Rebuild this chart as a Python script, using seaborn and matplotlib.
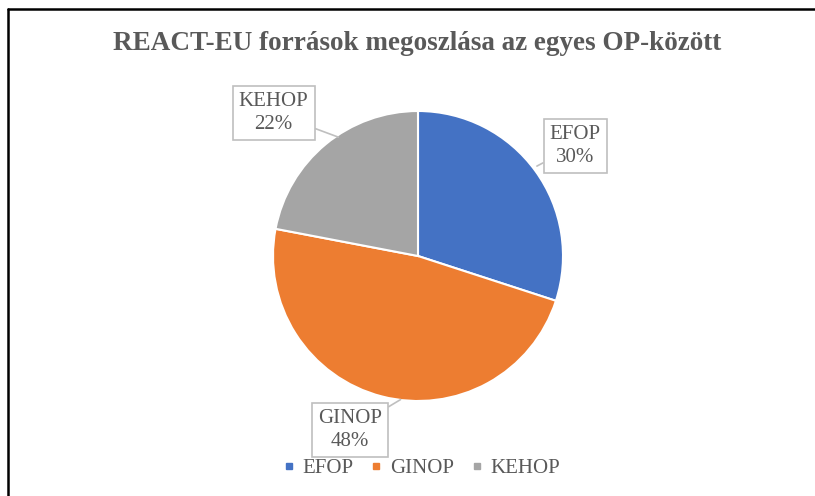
import numpy as np
import matplotlib
matplotlib.use("Agg")
import matplotlib.pyplot as plt
from matplotlib.lines import Line2D
import seaborn as sns

# data
programs = ["EFOP", "GINOP", "KEHOP"]
shares = [30, 48, 22]
colors = ["#4472C4", "#ED7D31", "#A5A5A5"]

sns.set_theme(style="white")
plt.rcParams['font.family'] = ['Liberation Serif', 'DejaVu Serif']

W, H = 815, 496
fig = plt.figure(figsize=(W / 100, H / 100), dpi=100)
fig.patch.set_facecolor("white")

# pie axes: center (418,256) px, radius 145 px
cx, cy, r = 418, 256, 145
ax = fig.add_axes([(cx - r) / W, (H - cy - r) / H, 2 * r / W, 2 * r / H])
wedges, _ = ax.pie(shares, colors=colors, startangle=90, counterclock=False,
                   radius=1, wedgeprops=dict(edgecolor="white", linewidth=1.5))
ax.set_xlim(-1, 1)
ax.set_ylim(-1, 1)
ax.set_aspect("equal")
ax.axis("off")

# callout labels (text position, arrow target)
label_pos = {"EFOP": (1.085, 0.76), "GINOP": (-0.47, -1.20), "KEHOP": (-0.995, 0.985)}
tail_target = {"EFOP": (0.82, 0.62), "GINOP": (-0.12, -0.99), "KEHOP": (-0.55, 0.82)}
for name, val in zip(programs, shares):
    ax.annotate(f"{name}\n{val}%", xy=tail_target[name], xytext=label_pos[name],
                ha="center", va="center", fontsize=15, color="#595959",
                linespacing=1.25,
                bbox=dict(boxstyle="square,pad=0.3", fc="white", ec="#BFBFBF", lw=1.2),
                arrowprops=dict(arrowstyle="-", color="#BFBFBF", lw=1.2,
                                shrinkA=0, shrinkB=0),
                annotation_clip=False)

fig.text(417 / W, 1 - 43 / H, "REACT-EU források megoszlása az egyes OP-között",
         ha="center", va="center", fontsize=19.5, fontweight="bold", color="#595959")

handles = [Line2D([], [], marker="s", linestyle="none", markersize=5,
                  markerfacecolor=c, markeredgecolor=c) for c in colors]
fig.legend(handles, programs, loc="center", bbox_to_anchor=(0.517, 1 - 468 / H),
           ncol=3, frameon=False, fontsize=15, handlelength=0.6, handletextpad=0.35,
           columnspacing=0.8, labelcolor="#595959")

# frame lines (left and top)
fig.add_artist(Line2D([8 / W, 8 / W], [0, 1 - 9 / H], color="black", lw=1.8,
                      transform=fig.transFigure))
fig.add_artist(Line2D([8 / W, 1], [1 - 9 / H, 1 - 9 / H], color="black", lw=1.8,
                      transform=fig.transFigure))

fig.savefig("out.png", dpi=100, facecolor="white")
